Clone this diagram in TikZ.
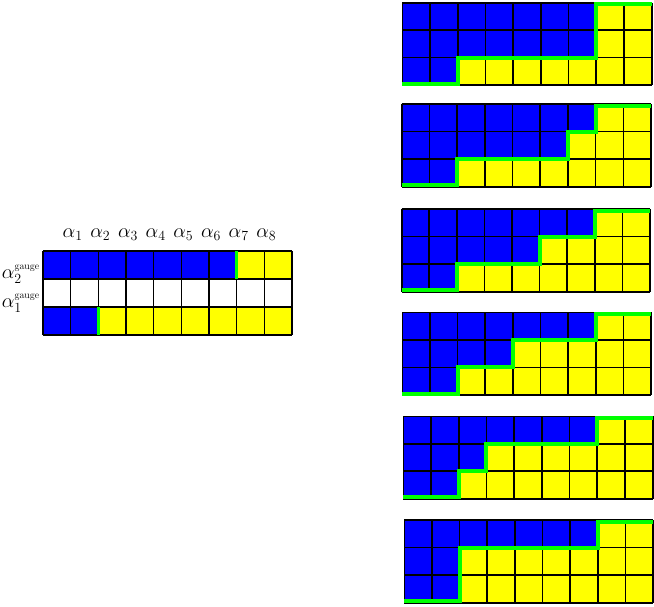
\documentclass[tikz,border=0pt]{standalone}
\usepackage{amsmath}
\definecolor{cblue}{RGB}{0,0,255}
\definecolor{cyellow}{RGB}{255,255,0}
\definecolor{cgreen}{RGB}{0,255,0}
\tikzset{
  gridline/.style={black, line width=1.6pt},
  wall/.style={cgreen, line width=4pt, line join=miter},
  wallmark/.style={cgreen, line width=3.5pt},
  lbl/.style={inner sep=0pt, font=\huge, scale=0.97}
}
\newcommand\cellgrid{%
  \foreach \i in {0,...,9} {\draw[gridline] (\i,0) -- (\i,3);}
  \foreach \j in {0,...,3} {\draw[gridline] (0,\j) -- (9,\j);}
}
\newcommand\rgrid[6]{%
  \pgfmathsetmacro\cw{#3/9}\pgfmathsetmacro\ch{#4/3}
  \begin{scope}[shift={(#1,#2)}, x=\cw pt, y=-\ch pt]
    \fill[cblue] (0,0) rectangle (7,1);
    \fill[cyellow] (7,0) rectangle (9,1);
    \fill[cblue] (0,1) rectangle (#5,2);
    \fill[cyellow] (#5,1) rectangle (9,2);
    \fill[cblue] (0,2) rectangle (2,3);
    \fill[cyellow] (2,2) rectangle (9,3);
    \cellgrid
    \draw[wall] #6;
  \end{scope}}
\newcommand\gaugetxt{\mbox{\fontsize{10.2}{11}\selectfont gauge}}
\begin{document}
\begin{tikzpicture}[x=1pt, y=-1pt]
  \fill[white] (0,0) rectangle (654,606);
  \useasboundingbox (0,0) rectangle (654,606);
  % left grid
  \begin{scope}[shift={(43,251)}, x=27.667pt, y=-28pt]
    \fill[cblue] (0,0) rectangle (7,1);
    \fill[cyellow] (7,0) rectangle (9,1);
    \fill[cblue] (0,2) rectangle (2,3);
    \fill[cyellow] (2,2) rectangle (9,3);
    \cellgrid
    \draw[wallmark] (7,0) -- (7,1);
    \draw[wallmark] (2,2) -- (2,3);
    \foreach \i in {1,...,8} {
      \node[lbl, anchor=base] (a\i) at ([xshift=2pt]\i,-0.5) {$\alpha_{\i}$};
    }
  \end{scope}
  \node[lbl, anchor=base east] (g2) at (40,278) {$\alpha_2^{\gaugetxt}$};
  \node[lbl, anchor=base east] (g1) at (40,307) {$\alpha_1^{\gaugetxt}$};
  % right grids
  \rgrid{402.3}{2.7}{249.4}{82.3}{7}{([yshift=1.5pt]0,3) -- ([yshift=1.5pt]2,3) -- (2,2) -- (7,2) -- ([yshift=-1.5pt]7,0) -- ([yshift=-1.5pt]9,0)}
  \rgrid{401.7}{104}{249.3}{82.7}{6}{([yshift=1.5pt]0,3) -- ([yshift=1.5pt]2,3) -- (2,2) -- (6,2) -- (6,1) -- (7,1) -- ([yshift=-1.5pt]7,0) -- ([yshift=-1.5pt]9,0)}
  \rgrid{401.7}{209}{248.3}{82.7}{5}{([yshift=1.5pt]0,3) -- ([yshift=1.5pt]2,3) -- (2,2) -- (5,2) -- (5,1) -- (7,1) -- ([yshift=-1.5pt]7,0) -- ([yshift=-1.5pt]9,0)}
  \rgrid{402.3}{312.3}{248.7}{82.7}{4}{([yshift=1.5pt]0,3) -- ([yshift=1.5pt]2,3) -- (2,2) -- (4,2) -- (4,1) -- (7,1) -- ([yshift=-1.5pt]7,0) -- ([yshift=-1.5pt]9,0)}
  \rgrid{403.3}{416.3}{249.4}{82.4}{3}{([yshift=1.5pt]0,3) -- ([yshift=1.5pt]2,3) -- (2,2) -- (3,2) -- (3,1) -- (7,1) -- ([yshift=-1.5pt]7,0) -- ([yshift=-1.5pt]9,0)}
  \rgrid{404.3}{520}{248.7}{82.7}{2}{([yshift=1.5pt]0,3) -- ([yshift=1.5pt]2,3) -- (2,1) -- (7,1) -- ([yshift=-1.5pt]7,0) -- ([yshift=-1.5pt]9,0)}
\end{tikzpicture}
\end{document}
